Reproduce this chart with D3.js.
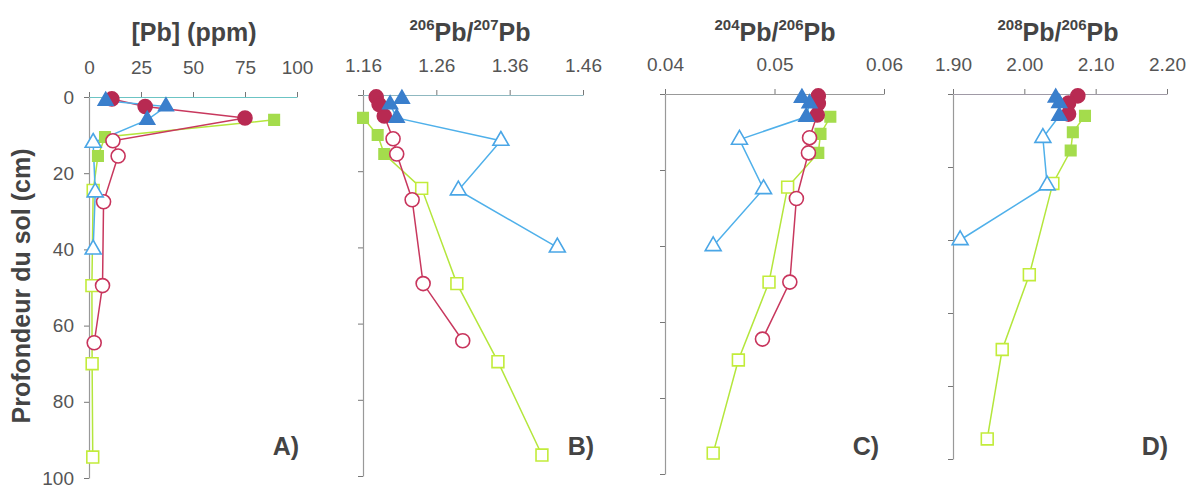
<!DOCTYPE html>
<html>
<head>
<meta charset="utf-8">
<script src="https://cdn.jsdelivr.net/npm/d3@7"></script>
<style>
  body { margin: 0; background: #fff; }
  svg { font-family: "Liberation Sans", Arial, sans-serif; }
</style>
</head>
<body>
<div id="chart"></div>
<script>
// Depths (cm) of each sample, per soil profile
const redDepth = [0.5, 2.5, 5.5, 11.5, 15.5, 27.5, 49.5, 64.5];
const blueDepth = [1, 2.5, 6, 12, 25, 40];
const greenDepth = [6, 10.5, 15.5, 24.5, 49.5, 70, 94.5];

// [Pb] (ppm)
const redPb = [11, 27, 75, 11.5, 14, 7, 6.5, 2.5];
const bluePb = [8, 37, 28, 2, 3, 2];
const greenPb = [89, 7.7, 4.3, 2, 1.4, 1.5, 1.8];

// 206Pb/207Pb
const red206_207 = [1.178, 1.182, 1.189, 1.201, 1.206, 1.227, 1.242, 1.296];
const blue206_207 = [1.213, 1.197, 1.206, 1.348, 1.290, 1.425];
const green206_207 = [1.160, 1.180, 1.189, 1.240, 1.288, 1.344, 1.404];

// 204Pb/206Pb
const red204_206 = [0.0540, 0.0540, 0.0539, 0.0532, 0.0531, 0.0520, 0.0514, 0.0489];
const blue204_206 = [0.0525, 0.0532, 0.0529, 0.0468, 0.0490, 0.0444];
const green204_206 = [0.0551, 0.0542, 0.0540, 0.0512, 0.0495, 0.0467, 0.0444];

// 208Pb/206Pb (red profile: surface samples only)
const red208_206 = [2.075, 2.062, 2.062];
const blue208_206 = [2.044, 2.049, 2.049, 2.026, 2.032, 1.910];
const green208_206 = [2.085, 2.068, 2.065, 2.040, 2.007, 1.969, 1.948];

// number of surface (filled) samples in each profile
const redFilled = 3, blueFilled = 3, greenFilled = 3;

// tick labels
const ticksA = [0, 25, 50, 75, 100];
const ticksB = [1.16, 1.26, 1.36, 1.46];
const ticksC = [0.04, 0.05, 0.06];
const ticksD = [1.90, 2.00, 2.10, 2.20];
const depthTicks = [0, 20, 40, 60, 80, 100];
const panelLabels = ['A)', 'B)', 'C)', 'D)'];

const W = 1189, H = 488;
const svg = d3.select('#chart').append('svg')
  .attr('width', W).attr('height', H);

// title parts: [text, isSuperscript]
const panels = [
  { ticks: ticksA, fmt: d3.format('d'), x0: 89, x1: 297, y0: 97, y1: 478, axisColor: '#6cc4c4',
    title: [['[Pb] (ppm)', false]], tx: 194, lx: 286 },
  { ticks: ticksB, fmt: d3.format('.2f'), x0: 363, x1: 583, y0: 95, y1: 476, axisColor: '#8fb8c0',
    title: [['206', true], ['Pb/', false], ['207', true], ['Pb', false]], tx: 470, lx: 581 },
  { ticks: ticksC, fmt: d3.format('.2f'), x0: 665, x1: 884, y0: 94, y1: 474, axisColor: '#999',
    title: [['204', true], ['Pb/', false], ['206', true], ['Pb', false]], tx: 775, lx: 866 },
  { ticks: ticksD, fmt: d3.format('.2f'), x0: 953, x1: 1167, y0: 94, y1: 459, axisColor: '#a09aa6',
    title: [['208', true], ['Pb/', false], ['206', true], ['Pb', false]], tx: 1058, lx: 1155 }
];

const profiles = [
  { line: '#b4e63c', fill: '#a4dc4c', stroke: '#c2ec3a', symbol: d3.symbolSquare, size: 110, osize: 140,
    depth: greenDepth, filled: greenFilled, values: [greenPb, green206_207, green204_206, green208_206] },
  { line: '#c8385e', fill: '#b82a52', stroke: '#c8345c', symbol: null,
    depth: redDepth, filled: redFilled, values: [redPb, red206_207, red204_206, red208_206] },
  { line: '#4fb0ea', fill: '#3a7fcc', stroke: '#4aa6e6', symbol: d3.symbolTriangle, size: 95, osize: 110,
    depth: blueDepth, filled: blueFilled, values: [bluePb, blue206_207, blue204_206, blue208_206] }
];

panels.forEach((p, i) => {
  const x = d3.scaleLinear().domain(d3.extent(p.ticks)).range([p.x0, p.x1]);
  const y = d3.scaleLinear().domain([0, 100]).range([p.y0, p.y1]);
  const g = svg.append('g');

  // top axis
  const xa = g.append('g')
    .attr('transform', `translate(0,${p.y0})`)
    .call(d3.axisTop(x).tickValues(p.ticks).tickFormat(p.fmt).tickSize(5).tickSizeOuter(0).tickPadding(18));
  xa.select('.domain').attr('stroke', p.axisColor).attr('stroke-width', 1.2);
  xa.selectAll('.tick line').attr('stroke', '#777');
  xa.selectAll('.tick text').attr('font-size', 19).attr('fill', '#555');

  // left axis
  const ya = g.append('g')
    .attr('transform', `translate(${p.x0},0)`)
    .call(d3.axisLeft(y).tickValues(depthTicks).tickSize(5).tickSizeOuter(0).tickPadding(10));
  ya.select('.domain').attr('stroke', '#999').attr('stroke-width', 1.2);
  ya.selectAll('.tick line').attr('stroke', '#777');
  if (i === 0) {
    ya.selectAll('.tick text').attr('font-size', 19).attr('fill', '#555');
  } else {
    ya.selectAll('.tick text').remove();
  }

  // title with superscript mass numbers
  const t = g.append('text')
    .attr('x', p.tx).attr('y', 41)
    .attr('text-anchor', 'middle')
    .attr('font-weight', 'bold').attr('fill', '#444');
  let up = false;
  p.title.forEach(([s, sup]) => {
    let dy = 0;
    if (sup && !up) { dy = -11; up = true; }
    else if (!sup && up) { dy = 11; up = false; }
    t.append('tspan')
      .attr('font-size', sup ? 15 : 25)
      .attr('dy', dy)
      .text(s);
  });

  // panel label
  g.append('text')
    .attr('x', p.lx).attr('y', 455)
    .attr('text-anchor', 'middle')
    .attr('font-size', 25).attr('font-weight', 'bold').attr('fill', '#444')
    .text(panelLabels[i]);

  const line = d3.line().x(d => x(d.v)).y(d => y(d.d));

  const series = profiles.map(pr => pr.values[i].map((v, k) => ({ v: v, d: pr.depth[k], filled: k < pr.filled })));

  profiles.forEach((pr, j) => {
    g.append('path')
      .attr('d', line(series[j]))
      .attr('fill', 'none')
      .attr('stroke', pr.line)
      .attr('stroke-width', 1.5);
  });

  profiles.forEach((pr, j) => {
    const pts = series[j];
    // open markers first, filled markers on top
    const ordered = pts.filter(d => !d.filled).concat(pts.filter(d => d.filled));
    ordered.forEach(d => {
      const fill = d.filled ? pr.fill : '#fff';
      const stroke = d.filled ? pr.fill : pr.stroke;
      if (pr.symbol === null) {
        g.append('circle')
          .attr('cx', x(d.v)).attr('cy', y(d.d)).attr('r', 7)
          .attr('fill', fill).attr('stroke', stroke).attr('stroke-width', 1.6);
      } else {
        g.append('path')
          .attr('transform', `translate(${x(d.v)},${y(d.d)})`)
          .attr('d', d3.symbol().type(pr.symbol).size(d.filled ? pr.size : pr.osize)())
          .attr('fill', fill).attr('stroke', stroke).attr('stroke-width', 1.6);
      }
    });
  });
});

// depth title
svg.append('text')
  .attr('transform', 'translate(30,286) rotate(-90)')
  .attr('text-anchor', 'middle')
  .attr('font-size', 25).attr('font-weight', 'bold').attr('fill', '#444')
  .text('Profondeur du sol (cm)');
</script>
</body>
</html>
